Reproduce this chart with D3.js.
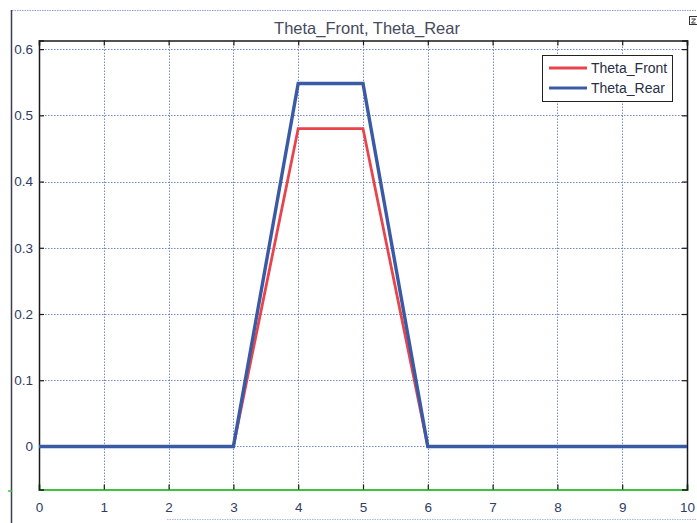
<!DOCTYPE html>
<html>
<head>
<meta charset="utf-8">
<script src="https://cdn.jsdelivr.net/npm/d3@7"></script>
<style>
  html, body { margin: 0; padding: 0; background: #fff; }
  svg { display: block; }
</style>
</head>
<body>
<svg id="chart" width="697" height="523"></svg>
<script>
// Simulation time (s) and joint angles (rad)
const time = [0, 1, 2, 3, 4, 5, 6, 7, 8, 9, 10];
const thetaFront = [0, 0, 0, 0, 0.48, 0.48, 0, 0, 0, 0, 0];
const thetaRear = [0, 0, 0, 0, 0.548, 0.548, 0, 0, 0, 0, 0];
const seriesNames = ["Theta_Front", "Theta_Rear"];
const seriesColors = ["#e8444c", "#3b5aa6"];
const xTicks = [0, 1, 2, 3, 4, 5, 6, 7, 8, 9, 10];
const yTicks = [0, 0.1, 0.2, 0.3, 0.4, 0.5, 0.6];
const titleText = "Theta_Front, Theta_Rear";

const svg = d3.select("#chart");
const W = 697, H = 523;
const plot = { left: 39, right: 687, top: 40.5, bottom: 489.5 };

const x = d3.scaleLinear().domain([0, 10]).range([plot.left, plot.right]);
const y = d3.scaleLinear().domain([-0.065, 0.613]).range([plot.bottom, plot.top]);

// Figure frame
svg.append("line").attr("x1", 12).attr("x2", W).attr("y1", 10.5).attr("y2", 10.5)
  .attr("stroke", "#8fa3d8").attr("stroke-width", 1).attr("stroke-dasharray", "1.5,1");
svg.append("line").attr("x1", 11.5).attr("x2", 11.5).attr("y1", 10).attr("y2", H)
  .attr("stroke", "#3a3f55").attr("stroke-width", 1.5);
svg.append("line").attr("x1", 167).attr("x2", W).attr("y1", 519.5).attr("y2", 519.5)
  .attr("stroke", "#a9bde6").attr("stroke-width", 1).attr("stroke-dasharray", "1.5,1");
svg.append("line").attr("x1", 8).attr("x2", 12).attr("y1", 491).attr("y2", 491)
  .attr("stroke", "#3cc43c").attr("stroke-width", 1.5);

// Small corner button
const btn = svg.append("g").attr("transform", "translate(689,16)");
btn.append("rect").attr("x", 0.5).attr("y", 0.5).attr("width", 8).attr("height", 8)
  .attr("fill", "#fff").attr("stroke", "#333").attr("stroke-width", 1);
btn.append("path").attr("d", "M2.5,3 H6.5 L2.5,7 H6.5").attr("fill", "none")
  .attr("stroke", "#333").attr("stroke-width", 1);

// Title
svg.append("text").attr("x", 367).attr("y", 33.5).attr("text-anchor", "middle")
  .attr("font-family", "Liberation Sans, Arial, sans-serif").attr("font-size", 16.5)
  .attr("fill", "#454b60").text(titleText);

// Grid
const grid = svg.append("g").attr("stroke", "#7488c8").attr("stroke-width", 1)
  .attr("stroke-dasharray", "1.5,1.5");
grid.selectAll(".gx").data(xTicks.slice(1, -1)).join("line")
  .attr("x1", d => Math.round(x(d)) + 0.5).attr("x2", d => Math.round(x(d)) + 0.5)
  .attr("y1", plot.top).attr("y2", plot.bottom);
grid.selectAll(".gy").data(yTicks).join("line")
  .attr("x1", plot.left).attr("x2", plot.right)
  .attr("y1", d => Math.round(y(d)) + 0.5).attr("y2", d => Math.round(y(d)) + 0.5);

// Axes with inward ticks
const fmtY = d => d === 0 ? "0" : d3.format(".1f")(d);
const fontFam = "Liberation Sans, Arial, sans-serif";

const xAxis = svg.append("g").attr("transform", `translate(0,${plot.bottom})`)
  .call(d3.axisBottom(x).tickValues(xTicks).tickSize(-5).tickPadding(13).tickFormat(d3.format("d")));
const yAxis = svg.append("g").attr("transform", `translate(${plot.left},0)`)
  .call(d3.axisLeft(y).tickValues(yTicks).tickSize(-5).tickPadding(6).tickFormat(fmtY));
const xTop = svg.append("g").attr("transform", `translate(0,${plot.top})`)
  .call(d3.axisTop(x).tickValues(xTicks).tickSize(-5).tickFormat(""));
const yRight = svg.append("g").attr("transform", `translate(${plot.right},0)`)
  .call(d3.axisRight(y).tickValues(yTicks).tickSize(-5).tickFormat(""));

[xAxis, yAxis, xTop, yRight].forEach(g => {
  g.select(".domain").attr("stroke", "#1a1a1a").attr("stroke-width", 1.5);
  g.selectAll(".tick line").attr("stroke", "#1a1a1a").attr("stroke-width", 1.2);
  g.selectAll("text").attr("font-family", fontFam).attr("font-size", 13.5)
    .attr("fill", "#2f3c66");
});
xAxis.select(".domain").attr("stroke", "#3cc43c").attr("stroke-width", 2);

// Data lines
const lineGen = d3.line().x((d, i) => x(time[i])).y(d => y(d));
const seriesData = [thetaFront, thetaRear];
svg.append("g").selectAll("path").data(seriesData).join("path")
  .attr("d", d => lineGen(d))
  .attr("fill", "none")
  .attr("stroke", (d, i) => seriesColors[i])
  .attr("stroke-width", (d, i) => i === 0 ? 2.8 : 3.4)
  .attr("stroke-linejoin", "miter");

// Legend
const lg = svg.append("g").attr("transform", "translate(542,55)");
lg.append("rect").attr("x", 0.5).attr("y", 0.5).attr("width", 130).attr("height", 46)
  .attr("fill", "#fff").attr("stroke", "#222").attr("stroke-width", 1);
seriesNames.forEach((name, i) => {
  const yy = 13 + i * 20;
  lg.append("line").attr("x1", 7).attr("x2", 45).attr("y1", yy).attr("y2", yy)
    .attr("stroke", seriesColors[i]).attr("stroke-width", 3);
  lg.append("text").attr("x", 49).attr("y", yy + 5)
    .attr("font-family", fontFam).attr("font-size", 14)
    .attr("fill", "#2a2f45").text(name);
});
</script>
</body>
</html>
